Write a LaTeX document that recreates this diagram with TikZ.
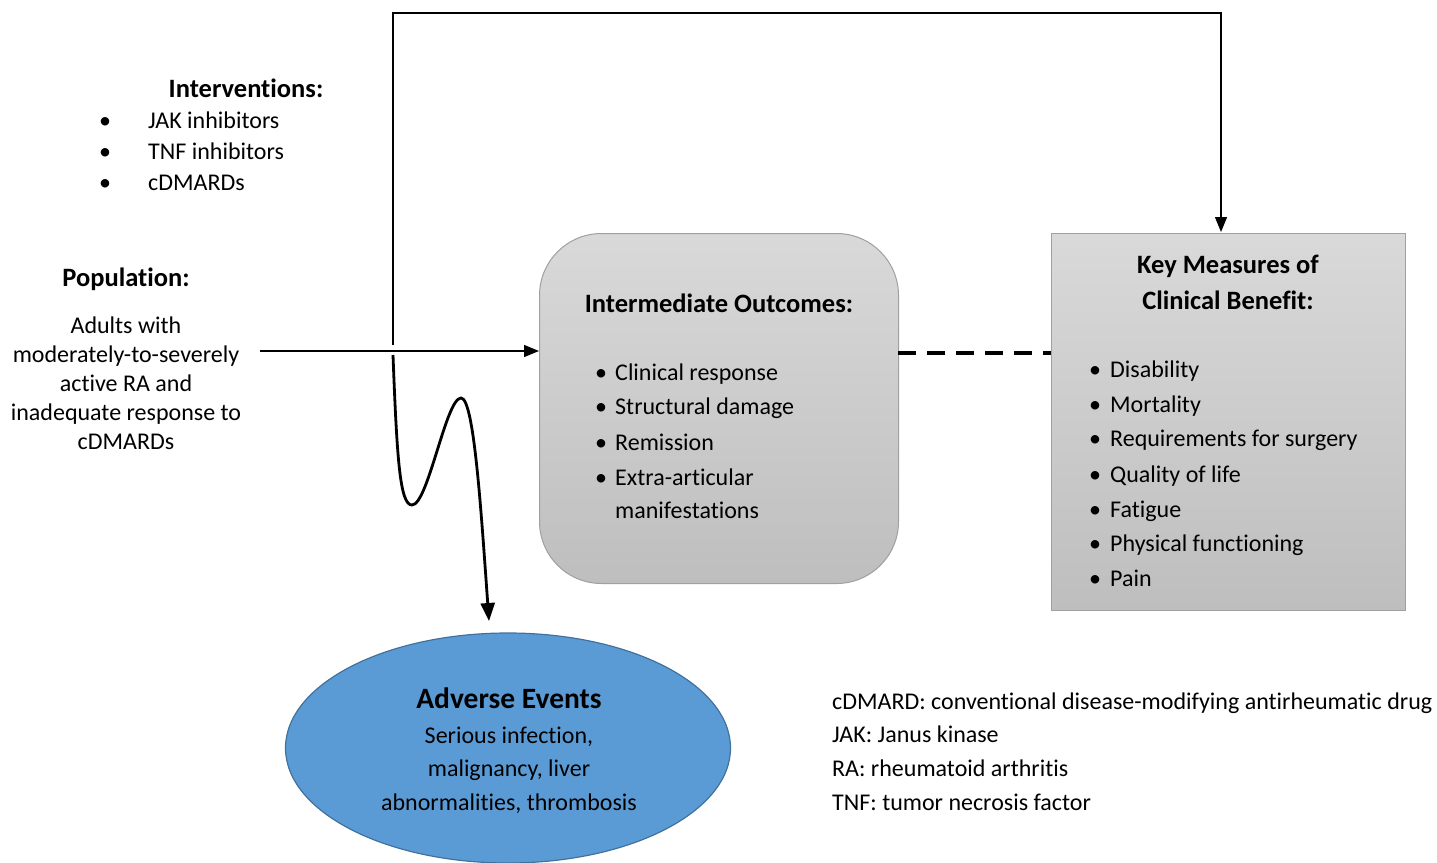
\documentclass[tikz,border=0pt]{standalone}
\usepackage{fontspec}
\setmainfont{Carlito}[Ligatures={NoCommon}]
\usetikzlibrary{arrows.meta,shapes.geometric,calc}
\definecolor{boxtop}{HTML}{D9D9D9}
\definecolor{boxbot}{HTML}{BEBEBE}
\definecolor{boxline}{HTML}{A0A0A0}
\definecolor{aefill}{HTML}{5B9BD5}
\definecolor{aeline}{HTML}{41719C}
\tikzset{
  txt/.style={inner sep=0pt, font=\fontsize{24}{29}\selectfont, text height=1em, text depth=0em, yshift=-3.5pt},
  ttl/.style={txt, font=\fontsize{26.5}{32}\selectfont\bfseries},
  lefttxt/.style={txt, anchor=west},
  graybox/.style={draw=boxline, line width=1pt, top color=boxtop, bottom color=boxbot},
  conn/.style={line width=1.3pt},
  tip/.style={-{Triangle[length=15pt,width=12pt]}},
}
\begin{document}
\begin{tikzpicture}[x=1pt,y=-1pt]
\useasboundingbox (0,0) rectangle (1437,862);
% boxes
\node[graybox, rounded corners=62pt, minimum width=359pt, minimum height=350pt, anchor=north west] (iobox) at (539,233) {};
\node[graybox, minimum width=354pt, minimum height=377pt, anchor=north west] (kmbox) at (1051,233) {};
\node[ellipse, draw=aeline, line width=1.2pt, fill=aefill, minimum width=445pt, minimum height=230pt, inner sep=0pt] (ae) at (508,748) {};

% interventions
\node[ttl] (intt) at (246,89) {Interventions:};
\foreach \t/\y [count=\i] in {JAK inhibitors/120, TNF inhibitors/151, cDMARDs/182}{
  \node[txt] (intb\i) at (105,\y) {•};
  \node[lefttxt] (int\i) at (148,\y) {\t};
}
% population
\node[ttl] (popt) at (126,278) {Population:};
\foreach \t/\y [count=\i] in {Adults with/325, moderately-to-severely/354, active RA and/383, inadequate response to/412, cDMARDs/441}{
  \node[txt] (pop\i) at (126,\y) {\t};
}
% intermediate outcomes
\node[ttl] (iot) at (719,304) {Intermediate Outcomes:};
\foreach \t/\y [count=\i] in {Clinical response/372, Structural damage/406, Remission/442, Extra-articular/477}{
  \node[txt] (iob\i) at (601,\y) {•};
  \node[lefttxt] (io\i) at (615,\y) {\t};
}
\node[lefttxt] (io5) at (615,510) {manifestations};
% key measures
\node[ttl] (kmt1) at (1228,265) {Key Measures of};
\node[ttl] (kmt2) at (1228,301) {Clinical Benefit:};
\foreach \t/\y [count=\i] in {Disability/369, Mortality/404, Requirements for surgery/438, Quality of life/474, Fatigue/509, Physical functioning/543, Pain/578}{
  \node[txt] (kmb\i) at (1095,\y) {•};
  \node[lefttxt] (km\i) at (1110,\y) {\t};
}
% adverse events
\node[txt, font=\fontsize{29.5}{34}\selectfont\bfseries, yshift=-1.5pt] (aet) at (509,698) {Adverse Events};
\foreach \t/\y [count=\i] in {{Serious infection,}/735, {malignancy, liver}/768, {abnormalities, thrombosis}/802}{
  \node[txt] (ael\i) at (509,\y) {\t};
}
% legend
\foreach \t/\y [count=\i] in {cDMARD: conventional disease-modifying antirheumatic drug/701, JAK: Janus kinase/734, RA: rheumatoid arthritis/768, TNF: tumor necrosis factor/802}{
  \node[lefttxt] (leg\i) at (832,\y) {\t};
}

% connectors
\coordinate (popout) at (260,351);
\coordinate (split) at (393,345);
\coordinate (topl) at (393,13);
\coordinate (kmin) at (1221,232);
\coordinate (curvestart) at (393,355);
\coordinate (aein) at (489,621);
\coordinate (dash) at (898,353);
\draw[conn, tip] (popout) -- (popout -| iobox.west);
\draw[conn, tip] (split) -- (topl) -| (kmin);
\draw[line width=4pt, dash pattern=on 18pt off 11pt] (dash) -- (dash -| kmbox.west);
\draw[line width=2.8pt, -{Triangle[length=18pt,width=14pt]}] (curvestart)
  .. controls (397,460) and (400,505) .. (412,505)
  .. controls (428,505) and (446,398) .. (461,398)
  .. controls (474,398) and (481,510) .. (aein);
\end{tikzpicture}
\end{document}
